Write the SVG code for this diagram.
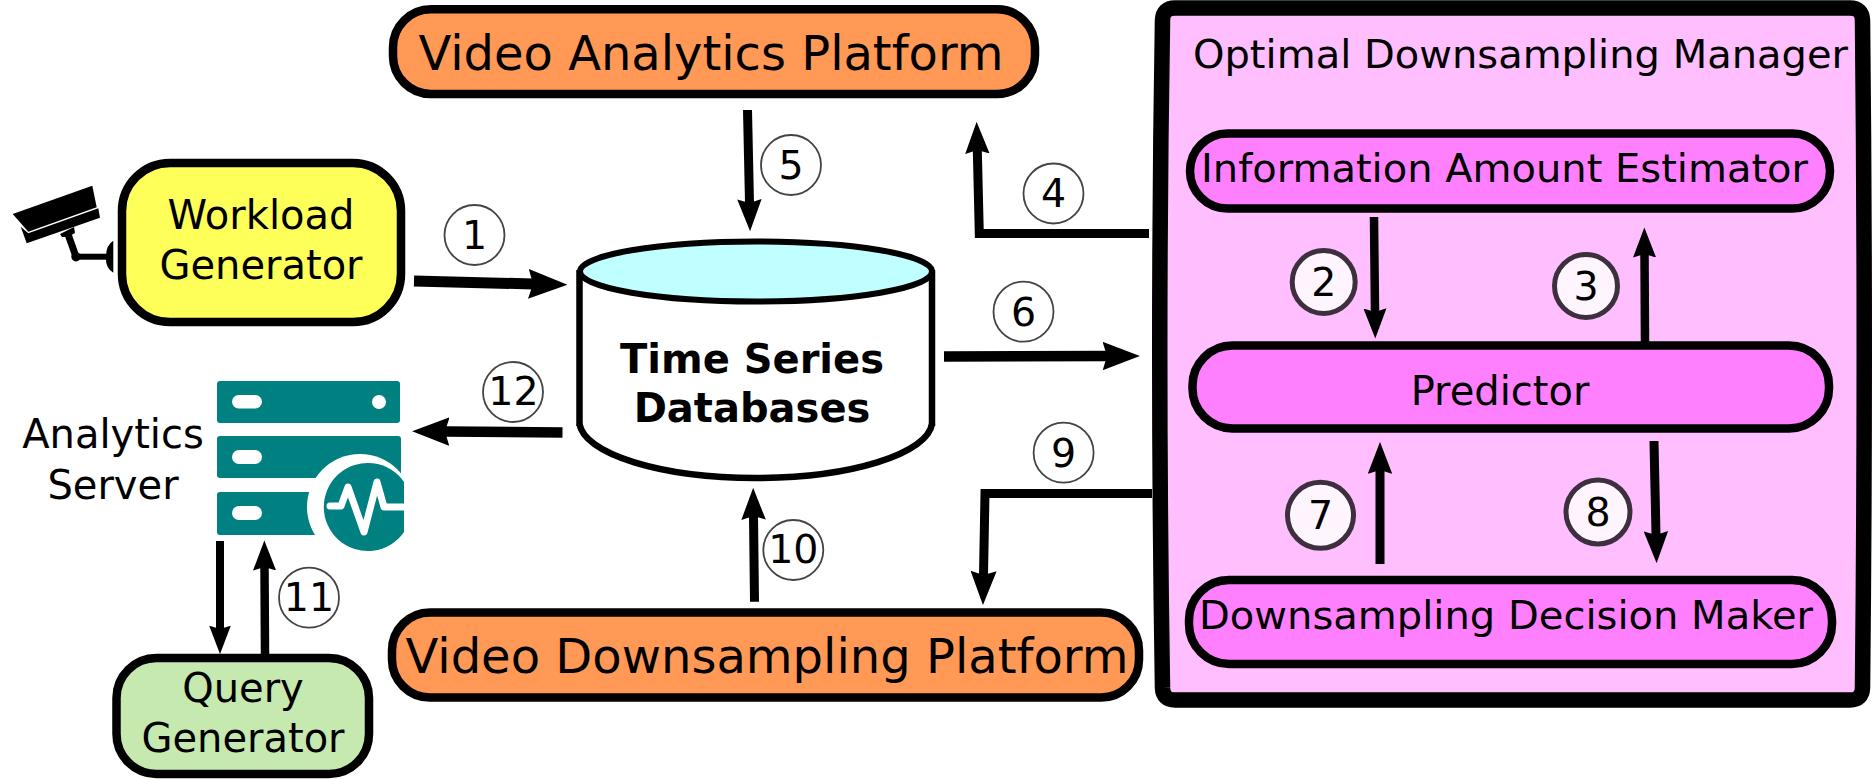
<svg xmlns="http://www.w3.org/2000/svg" width="1873" height="779" viewBox="0 0 1873 779">
<style>
text{font-family:"DejaVu Sans",sans-serif;fill:#000;text-anchor:middle}
.box{stroke:#000;stroke-width:8.5}
.c{fill:none;stroke:#000;marker-end:url(#head)}
.b{fill:#fff;stroke:#444;stroke-width:1.8}
.bi{fill:#fff5ff;stroke:#3d2f3d;stroke-width:5}
.n{font-size:39.5px}
.t{font-size:40px}
.teal{fill:#008080}
.w{fill:#fff}
</style>
<defs>
<marker id="head" viewBox="0 0 3.4 2.6" markerWidth="3.55" markerHeight="2.72" refX="0.4" refY="1.3" orient="auto" markerUnits="strokeWidth">
<path d="M0,0L3.4,1.3L0,2.6L0.4,1.3z" fill="#000"/>
</marker>
<marker id="headL" viewBox="0 0 3.4 2.6" markerWidth="3.8" markerHeight="2.9" refX="0.4" refY="1.3" orient="auto" markerUnits="strokeWidth">
<path d="M0,0L3.4,1.3L0,2.6L0.4,1.3z" fill="#000"/>
</marker>
</defs>
<g id="manager">
<path d="M1175,8H1850Q1862,8 1862.500,20Q1866,350 1862.500,688Q1862,700 1850,700H1175Q1163,700 1162.500,688Q1157,350 1162.500,20Q1163,8 1175,8Z" fill="#ffbfff" stroke="#000" stroke-width="15.500"/>
<text x="1520.500" y="68" font-size="39.500" textLength="655" lengthAdjust="spacingAndGlyphs">Optimal Downsampling Manager</text>
</g>
<g id="video-analytics"><rect class="box" x="393" y="9.300" width="642" height="84.700" rx="38" fill="#ff9955"/>
<text x="711" y="69.500" font-size="48" textLength="585" lengthAdjust="spacingAndGlyphs">Video Analytics Platform</text></g>
<g id="video-downsampling"><rect class="box" x="392" y="612.500" width="747" height="85" rx="38" fill="#ff9955"/>
<text x="767" y="673" font-size="48" textLength="723" lengthAdjust="spacingAndGlyphs">Video Downsampling Platform</text></g>
<g id="workload"><rect class="box" x="122" y="163" width="279" height="159" rx="48" fill="#ffff5a"/>
<text class="t" x="261" y="229">Workload</text><text class="t" x="261" y="279">Generator</text></g>
<g id="camera">
<path d="M12.700,214L92.300,185.700L96.700,207.300L28.300,231.700Z"/>
<path d="M20.700,226.700L28.300,233.300L98.300,208.300L100,217.700L26.700,243.300Z"/>
<path d="M60,234L74,227L75,233L68,237L62,237Z"/>
<path d="M68.300,235L76,256.700" fill="none" stroke="#000" stroke-width="7"/>
<path d="M76,256.700H107" fill="none" stroke="#000" stroke-width="6"/>
<circle cx="76" cy="256.700" r="4.700"/>
<path d="M113.300,240.700V272.700Q105,268 106,256.700Q106,245 113.300,240.700Z"/>
</g>
<g id="query"><rect class="box" x="116.500" y="658" width="252.500" height="116" rx="40" fill="#c6e9af"/>
<text class="t" x="243" y="702">Query</text><text class="t" x="243" y="752">Generator</text></g>
<g id="server">
<rect class="teal" x="217" y="381" width="183" height="42" rx="3"/>
<rect class="w" x="232" y="395" width="30" height="13.500" rx="6.700"/>
<circle class="w" cx="379" cy="402" r="7"/>
<rect class="teal" x="217" y="436" width="184" height="42" rx="3"/>
<rect class="w" x="232" y="450" width="30" height="14" rx="7"/>
<rect class="teal" x="217" y="492" width="130" height="43" rx="3"/>
<rect class="w" x="232" y="506" width="30" height="14" rx="7"/>
<circle class="w" cx="360" cy="507" r="53"/>
<path class="teal" d="M404,482A44,44 0 1 0 404,532Z"/>
<path d="M330,506H341L348,487L364,532L377,482L384,507H404" fill="none" stroke="#fff" stroke-width="7" stroke-linecap="round" stroke-linejoin="round"/>
<text class="t" x="113" y="448">Analytics</text><text class="t" x="113" y="499">Server</text>
</g>
<g id="database">
<path d="M579.500,271V428A176.500,53 0 0 0 932,428V271Z" fill="#fff"/>
<path d="M579.500,270V426M932,270V426" fill="none" stroke="#000" stroke-width="6.500"/>
<path d="M579.500,424A176.500,57 0 0 0 932,424" fill="none" stroke="#000" stroke-width="6.500"/>
<ellipse cx="756" cy="271.500" rx="176" ry="30" fill="#bfffff" stroke="#000" stroke-width="6"/>
<text x="752" y="373" font-size="40" font-weight="700">Time Series</text>
<text x="752" y="422" font-size="40" font-weight="700">Databases</text>
</g>
<g id="iae"><rect class="box" x="1190" y="133.500" width="640" height="75" rx="37.500" fill="#ff80ff"/>
<text x="1504.500" y="182" font-size="39.500" textLength="607" lengthAdjust="spacingAndGlyphs">Information Amount Estimator</text></g>
<g id="predictor"><rect class="box" x="1192.500" y="345.500" width="636.500" height="83" rx="40" fill="#ff80ff"/>
<text x="1500" y="405" font-size="40">Predictor</text></g>
<g id="decision"><rect class="box" x="1189" y="580" width="643" height="84" rx="40" fill="#ff80ff"/>
<text x="1506" y="629" font-size="39.500" textLength="614" lengthAdjust="spacingAndGlyphs">Downsampling Decision Maker</text></g>
<g id="connectors">
<path class="c" stroke-width="11" d="M414,281L533,284"/>
<path class="c" stroke-width="9" d="M747.500,110L749.500,203"/>
<path class="c" stroke-width="9" d="M1149,233.500H979.300L977.300,150"/>
<path class="c" stroke-width="10.500" d="M944,356.500L1107,356"/>
<path class="c" style="marker-end:url(#headL)" stroke-width="9" d="M1152,493.500H985L983.500,575"/>
<path class="c" stroke-width="9" d="M754.500,601.700L753.500,516"/>
<path class="c" stroke-width="10.500" d="M562.500,432.500L445,431.500"/>
<path class="c" stroke-width="8" d="M220,541V629"/>
<path class="c" stroke-width="8.500" d="M265,654L264.500,567"/>
<path class="c" stroke-width="8.500" d="M1374,217L1375,312"/>
<path class="c" stroke-width="8.500" d="M1645,342L1644.500,254"/>
<path class="c" stroke-width="9" d="M1380,564V470"/>
<path class="c" stroke-width="9" d="M1654,441L1656,535"/>
</g>
<g id="badges">
<g id="badge-1"><circle class="b" cx="474.500" cy="235" r="30"/><text class="n" x="474.500" y="249">1</text></g>
<g id="badge-2"><circle class="bi" cx="1323.700" cy="282" r="31.500"/><text class="n" x="1323.700" y="296">2</text></g>
<g id="badge-3"><circle class="bi" cx="1586" cy="286" r="31.500"/><text class="n" x="1586" y="300">3</text></g>
<g id="badge-4"><circle class="b" cx="1053.500" cy="193.500" r="30"/><text class="n" x="1053.500" y="207">4</text></g>
<g id="badge-5"><circle class="b" cx="791" cy="165" r="30"/><text class="n" x="791" y="179">5</text></g>
<g id="badge-6"><circle class="b" cx="1023.500" cy="311.700" r="30"/><text class="n" x="1023.500" y="325.700">6</text></g>
<g id="badge-7"><circle class="bi" cx="1320.500" cy="515.300" r="33"/><text class="n" x="1320.500" y="529.300">7</text></g>
<g id="badge-8"><circle class="bi" cx="1598" cy="512" r="32"/><text class="n" x="1598" y="526">8</text></g>
<g id="badge-9"><circle class="b" cx="1063.600" cy="452.700" r="30"/><text class="n" x="1063.600" y="466.700">9</text></g>
<g id="badge-10"><circle class="b" cx="793.300" cy="550" r="30"/><text class="n" x="793.300" y="562.500">10</text></g>
<g id="badge-11"><circle class="b" cx="309" cy="597.700" r="30"/><text class="n" x="309" y="611">11</text></g>
<g id="badge-12"><circle class="b" cx="513" cy="392" r="30"/><text class="n" x="513.500" y="405">12</text></g>
</g>
</svg>
